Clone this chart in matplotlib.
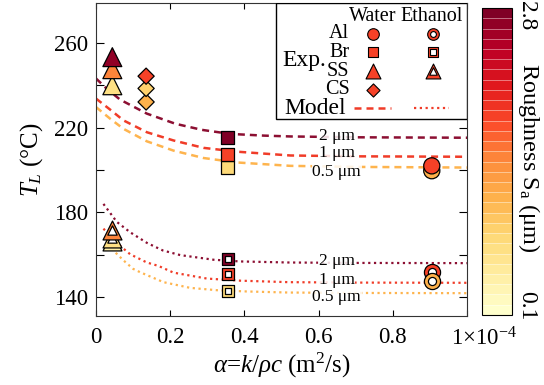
import matplotlib
matplotlib.use('Agg')
import matplotlib.pyplot as plt
import matplotlib.colors as mcolors
from matplotlib.patches import Rectangle
from matplotlib.ticker import MultipleLocator, FuncFormatter

plt.rcParams['font.family'] = 'Liberation Serif'
plt.rcParams['mathtext.fontset'] = 'custom'
plt.rcParams['mathtext.rm'] = 'Liberation Serif'
plt.rcParams['mathtext.it'] = 'Liberation Serif:italic'
plt.rcParams['mathtext.bf'] = 'Liberation Serif:bold'

# ---------------- data
# alpha in 1e-4 m^2/s, T_L in C, roughness Sa in um
# water (filled markers)
al_w_x = [0.905, 0.905]
al_w_T = [199.7, 202.0]
al_w_sa = [1.18, 1.83]
br_w_x = [0.355, 0.355, 0.355]
br_w_T = [201.2, 207.3, 215.5]
br_w_sa = [0.75, 1.83, 2.72]
ss_w_x = [0.044, 0.044, 0.044]
ss_w_T = [240.1, 247.7, 253.4]
ss_w_sa = [0.69, 1.45, 2.64]
cs_w_x = [0.135, 0.135, 0.135]
cs_w_T = [232.2, 238.6, 244.4]
cs_w_sa = [1.10, 0.83, 1.83]

# ethanol (hollow markers)
al_e_x = [0.905, 0.905]
al_e_T = [152.0, 147.4]
al_e_sa = [1.83, 1.18]
br_e_x = [0.355, 0.355, 0.355]
br_e_T = [142.7, 151.0, 157.9]
br_e_sa = [0.75, 1.83, 2.72]
ss_e_x = [0.044, 0.044, 0.044]
ss_e_T = [166.6, 168.0, 171.6]
ss_e_sa = [0.45, 0.69, 1.45]

# model, water (dashed)
dash2_x = [0, 0.03, 0.065, 0.137, 0.214, 0.286, 0.362, 0.452, 0.524, 0.7, 1.0]
dash2_T = [243.3, 238.3, 233.3, 226.7, 221.9, 219.0, 217.1, 216.3, 215.9, 215.5, 215.3]
dash1_x = [0, 0.038, 0.074, 0.137, 0.209, 0.29, 0.38, 0.524, 0.7, 1.0]
dash1_T = [233.8, 228.6, 223.5, 217.9, 214.0, 210.5, 208.7, 206.9, 206.5, 206.3]
dash05_x = [0, 0.038, 0.074, 0.137, 0.209, 0.29, 0.38, 0.524, 0.7, 1.0]
dash05_T = [229.8, 224.3, 219.5, 213.6, 209.2, 205.7, 203.6, 202.0, 201.5, 201.2]

# model, ethanol (dotted)
dot2_x = [0.02, 0.056, 0.092, 0.137, 0.18, 0.227, 0.317, 0.389, 0.52, 0.7, 1.0]
dot2_T = [184.0, 175.5, 170.6, 165.6, 162.0, 159.8, 157.6, 156.8, 156.3, 156.1, 156.0]
dot1_x = [0.02, 0.056, 0.092, 0.137, 0.168, 0.209, 0.299, 0.389, 0.52, 0.7, 1.0]
dot1_T = [172.3, 165.5, 160.2, 156.3, 154.7, 151.5, 148.7, 147.7, 147.0, 146.8, 146.7]
dot05_x = [0.042, 0.074, 0.1, 0.119, 0.182, 0.254, 0.326, 0.407, 0.52, 0.7, 1.0]
dot05_T = [162.8, 157.3, 153.3, 151.7, 147.0, 144.3, 143.2, 142.6, 142.1, 141.9, 141.8]

curve_labels = ['2 μm', '1 μm', '0.5 μm']
line_colors = ['#8c0f32', '#f03c28', '#feb44e']

# ---------------- figure
fig = plt.figure(figsize=(5.44, 3.85), dpi=100)
ax = fig.add_axes([0.1765, 0.1792, 0.682, 0.813])
cax = fig.add_axes([0.886, 0.182, 0.055, 0.797])

cmap = plt.get_cmap('YlOrRd', 30)
norm = mcolors.Normalize(vmin=0.1, vmax=2.8)

# model lines
for xs, ts, c in zip([dash2_x, dash1_x, dash05_x], [dash2_T, dash1_T, dash05_T], line_colors):
    ax.plot(xs, ts, color=c, lw=1.8, dashes=(2.8, 2.0), zorder=2)
for xs, ts, c in zip([dot2_x, dot1_x, dot05_x], [dot2_T, dot1_T, dot05_T], line_colors):
    ax.plot(xs, ts, color=c, lw=1.6, dashes=(1.0, 1.6), zorder=2)

# curve labels (on top of the lines)
for lab, y in zip(curve_labels, [215.9, 208.3, 199.2]):
    ax.text(0.649, y, lab, fontsize=12.5, ha='center', va='center', zorder=3,
            bbox=dict(facecolor='white', edgecolor='none', pad=0.5, alpha=0.85))
for lab, y in zip(curve_labels, [156.8, 148.2, 140.2]):
    ax.text(0.649, y, lab, fontsize=12.5, ha='center', va='center', zorder=3,
            bbox=dict(facecolor='white', edgecolor='none', pad=0.5, alpha=0.85))

# water markers
ms = {'o': 135, 's': 85, '^': 185, 'D': 68}
for xs, ts, sa, m in [(al_w_x, al_w_T, al_w_sa, 'o'), (br_w_x, br_w_T, br_w_sa, 's'),
                      (ss_w_x, ss_w_T, ss_w_sa, '^'), (cs_w_x, cs_w_T, cs_w_sa, 'D')]:
    ax.scatter(xs, ts, c=sa, cmap=cmap, norm=norm, marker=m, s=ms[m],
               edgecolors='k', linewidths=0.9, zorder=4)

# ethanol markers: coloured marker with white inner marker
inner = {'o': 34, 's': 24, '^': 45}
for xs, ts, sa, m in [(al_e_x, al_e_T, al_e_sa, 'o'), (br_e_x, br_e_T, br_e_sa, 's'),
                      (ss_e_x, ss_e_T, ss_e_sa, '^')]:
    for x, t, s in zip(xs, ts, sa):
        ax.scatter([x], [t], c=[s], cmap=cmap, norm=norm, marker=m, s=ms[m],
                   edgecolors='k', linewidths=0.9, zorder=4)
        ax.scatter([x], [t], c='white', marker=m, s=inner[m],
                   edgecolors='k', linewidths=0.9, zorder=4)

ax.set_xlim(0, 1)
ax.set_ylim(131, 279)
ax.xaxis.set_major_locator(MultipleLocator(0.2))
ax.yaxis.set_major_locator(MultipleLocator(20))
ax.xaxis.set_major_formatter(FuncFormatter(
    lambda v, p: '' if v > 0.99 else ('0' if abs(v) < 1e-9 else '%.1f' % v)))
ax.yaxis.set_major_formatter(FuncFormatter(
    lambda v, p: '%d' % v if round(v - 140) % 40 == 0 else ''))
ax.tick_params(direction='in', top=True, right=True, labelsize=16.5, width=0.8)
ax.tick_params(axis='x', length=4, pad=8)
ax.tick_params(axis='y', length=6, pad=6)
ax.annotate('1×10$^{-4}$', xy=(1.0, 0), xycoords=('data', 'axes fraction'),
            xytext=(-11.5, -21), textcoords='offset points', ha='left', va='baseline',
            fontsize=16.5, annotation_clip=False)
for sp in ax.spines.values():
    sp.set_linewidth(0.8)
    sp.set_color('#333333')

ax.set_xlabel(r'$\alpha$=$k$/$\rho c$ (m$^2$/s)', fontsize=18, labelpad=2)
ax.set_ylabel(r'$T_L$ (°C)', fontsize=18, labelpad=6)

# ---------------- legend (drawn by hand)
ax.add_patch(Rectangle((0.484, 0.629), 0.516, 0.371, transform=ax.transAxes,
                       facecolor='white', edgecolor='k', lw=1.0, zorder=5))
leg_c = cmap(norm(1.83))
ax.text(0.746, 0.958, 'Water', transform=ax.transAxes, fontsize=14.5, ha='center', va='center', zorder=6)
ax.text(0.905, 0.958, 'Ethanol', transform=ax.transAxes, fontsize=14.5, ha='center', va='center', zorder=6)
ax.text(0.562, 0.815, 'Exp.', transform=ax.transAxes, fontsize=17, ha='center', va='center', zorder=6)
rows_y = [0.902, 0.842, 0.782, 0.723]
leg_marks = [('Al', 'o', 70), ('Br', 's', 52), ('SS', '^', 115), ('CS', 'D', 45)]
for (lab, m, s), y in zip(leg_marks, rows_y):
    ax.text(0.683, y, lab, transform=ax.transAxes, fontsize=14.5, ha='right', va='center', zorder=6)
    ax.scatter([0.746], [y], transform=ax.transAxes, marker=m, s=s, color=leg_c,
               edgecolors='k', linewidths=0.8, zorder=6)
    if m != 'D':
        ax.scatter([0.908], [y], transform=ax.transAxes, marker=m, s=s, color=leg_c,
                   edgecolors='k', linewidths=0.8, zorder=6)
        ax.scatter([0.908], [y], transform=ax.transAxes, marker=m, s=s * 0.25, color='white',
                   edgecolors='k', linewidths=0.8, zorder=6)
ax.text(0.673, 0.663, 'Model', transform=ax.transAxes, fontsize=17, ha='right', va='center', zorder=6)
ax.plot([0.695, 0.795], [0.665, 0.665], transform=ax.transAxes, color='#f03c28',
        lw=1.8, dashes=(2.8, 2.0), zorder=6)
ax.plot([0.857, 0.951], [0.665, 0.665], transform=ax.transAxes, color='#f03c28',
        lw=1.6, dashes=(1.0, 1.6), zorder=6)

# ---------------- colorbar
sm = plt.cm.ScalarMappable(cmap=cmap, norm=norm)
cb = fig.colorbar(sm, cax=cax, drawedges=True)
cb.dividers.set_color('white')
cb.dividers.set_linewidth(0.6)
cb.dividers.set_alpha(0.5)
cb.outline.set_linewidth(0.8)
cb.set_ticks([])
fig.text(0.948, 0.998, '2.8', rotation=-90, ha='left', va='top', fontsize=17)
fig.text(0.948, 0.168, '0.1', rotation=-90, ha='left', va='bottom', fontsize=17)
fig.text(0.948, 0.591, r'Roughness S$_\mathrm{a}$ (μm)', rotation=-90, ha='left',
         va='center', fontsize=17.5)

fig.savefig('out.png', dpi=100)
